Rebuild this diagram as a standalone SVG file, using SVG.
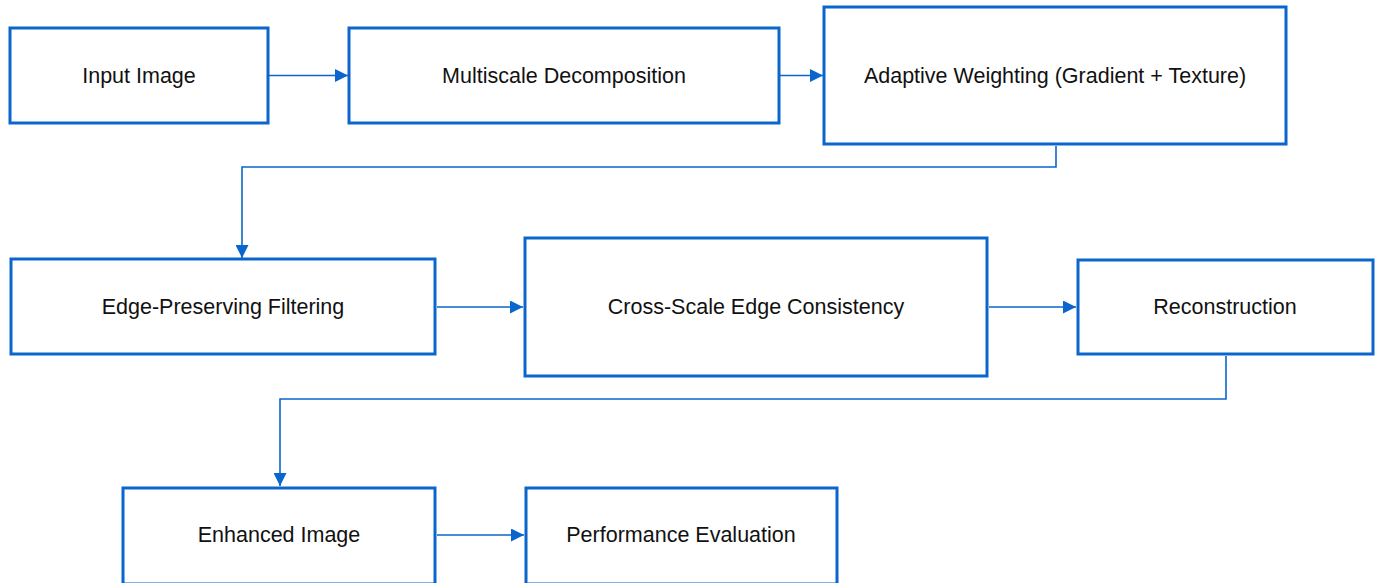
<svg xmlns="http://www.w3.org/2000/svg" width="1379" height="583" viewBox="0 0 1379 583">
<style>
.box{fill:#ffffff;stroke:#0a66cc;stroke-width:3}
.lbl{font-family:"Liberation Sans",Arial,sans-serif;font-size:21.5px;fill:#111111;text-anchor:middle;dominant-baseline:central}
.edge{fill:none;stroke:#0a66cc;stroke-width:1.6}
</style>
<defs>
<marker id="arr" viewBox="0 0 13 13" refX="13" refY="6.5" markerWidth="13" markerHeight="13" markerUnits="userSpaceOnUse" orient="auto">
<path d="M0,0 L13,6.5 L0,13 Z" fill="#0a66cc"/>
</marker>
</defs>
<rect width="1379" height="583" fill="#ffffff"/>
<g id="connectors">
<path class="edge" d="M269,75.5 H348" marker-end="url(#arr)"/>
<path class="edge" d="M780,75.5 H823" marker-end="url(#arr)"/>
<path class="edge" d="M1056,146 V167 H242 V258" marker-end="url(#arr)"/>
<path class="edge" d="M437,307 H523" marker-end="url(#arr)"/>
<path class="edge" d="M989,307 H1076" marker-end="url(#arr)"/>
<path class="edge" d="M1226,356 V399 H280 V486" marker-end="url(#arr)"/>
<path class="edge" d="M437,535 H524" marker-end="url(#arr)"/>
</g>
<g id="n1"><rect class="box" x="10" y="28" width="258" height="95"/><text class="lbl" x="139" y="75.5">Input Image</text></g>
<g id="n2"><rect class="box" x="349" y="28" width="430" height="95"/><text class="lbl" x="564" y="75.5">Multiscale Decomposition</text></g>
<g id="n3"><rect class="box" x="824" y="7" width="462" height="137"/><text class="lbl" x="1055" y="75.5">Adaptive Weighting (Gradient + Texture)</text></g>
<g id="n4"><rect class="box" x="11" y="259" width="424" height="95"/><text class="lbl" x="223" y="307">Edge-Preserving Filtering</text></g>
<g id="n5"><rect class="box" x="525" y="238" width="462" height="138"/><text class="lbl" x="756" y="307">Cross-Scale Edge Consistency</text></g>
<g id="n6"><rect class="box" x="1078" y="260" width="295" height="94"/><text class="lbl" x="1225" y="307">Reconstruction</text></g>
<g id="n7"><rect class="box" x="123" y="488" width="312" height="96"/><text class="lbl" x="279" y="535">Enhanced Image</text></g>
<g id="n8"><rect class="box" x="526" y="488" width="311" height="96"/><text class="lbl" x="681" y="535">Performance Evaluation</text></g>
</svg>
